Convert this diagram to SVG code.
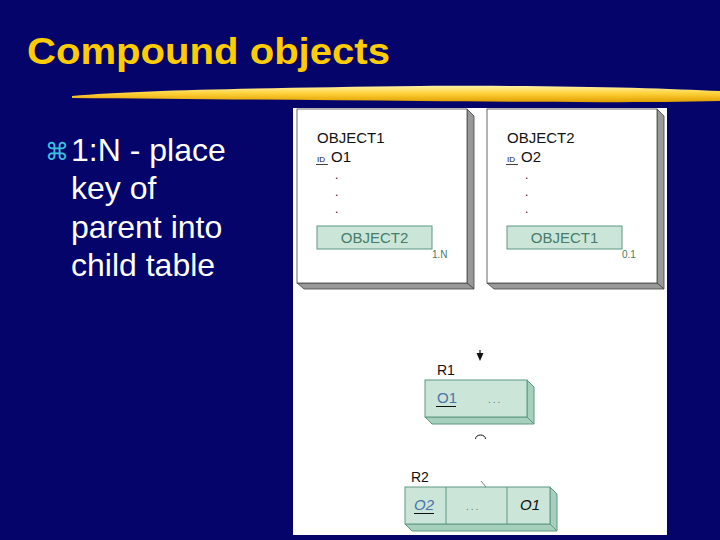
<svg xmlns="http://www.w3.org/2000/svg" width="720" height="540" viewBox="0 0 720 540">
<defs>
<linearGradient id="bar" x1="0" y1="0" x2="0" y2="1">
<stop offset="0" stop-color="#fff2a8"/>
<stop offset="0.45" stop-color="#ffd23c"/>
<stop offset="1" stop-color="#e0a000"/>
</linearGradient>
<style>
.sans{font-family:"Liberation Sans",Arial,sans-serif}
.blk{fill:#111}
.gtxt{fill:#467c69}
.card{fill:#fff;stroke:#444;stroke-width:0.8}
.shade{fill:#999;stroke:#444;stroke-width:0.8}
.gfront{fill:#cbe6d8;stroke:#5f9883;stroke-width:1}
.gside{fill:#a7d0bc;stroke:#5f9883;stroke-width:1}
.key{fill:#4d72a8}
</style>
</defs>
<rect width="720" height="540" fill="#04046a"/>
<g id="title">
<text x="27" y="64" class="sans" font-size="36" font-weight="bold" fill="#ffcc00" textLength="363" lengthAdjust="spacingAndGlyphs">Compound objects</text>
<path d="M72,96 C140,90 260,88 420,86 C560,85 660,88 720,91 L720,101 C640,103 520,102 420,101 C300,100 180,99 72,98 Z" fill="url(#bar)"/>
</g>
<g id="bullet" class="sans" font-size="32" fill="#ffffff">
<text x="45" y="160" font-size="24" fill="#3cc0e0">⌘</text>
<text x="71" y="161">1:N - place</text>
<text x="71" y="199">key of</text>
<text x="71" y="238">parent into</text>
<text x="71" y="276">child table</text>
</g>
<rect id="panel" x="293" y="108" width="374" height="427" fill="#ffffff"/>
<g id="object1">
<polygon class="shade" points="467,109 474,116 474,289 467,283"/>
<polygon class="shade" points="297,283 467,283 474,289 304,289"/>
<rect class="card" x="297" y="109" width="170" height="174"/>
<text x="317" y="143" class="sans blk" font-size="15">OBJECT1</text>
<text x="317" y="162" class="sans blk" font-size="8">ID</text>
<line x1="316" y1="164.5" x2="328" y2="164.5" stroke="#111" stroke-width="0.8"/>
<text x="331" y="162" class="sans blk" font-size="15">O1</text>
<text x="335" y="179" class="sans blk" font-size="12">.</text>
<text x="335" y="196" class="sans blk" font-size="12">.</text>
<text x="335" y="213" class="sans blk" font-size="12">.</text>
<rect class="gfront" x="317" y="226" width="115" height="23"/>
<text x="374.5" y="243" class="sans gtxt" font-size="15" text-anchor="middle">OBJECT2</text>
<text x="432" y="258" class="sans gtxt" font-size="10">1.N</text>
</g>
<g id="object2">
<polygon class="shade" points="657,109 664,116 664,289 657,283"/>
<polygon class="shade" points="487,283 657,283 664,289 494,289"/>
<rect class="card" x="487" y="109" width="170" height="174"/>
<text x="507" y="143" class="sans blk" font-size="15">OBJECT2</text>
<text x="507" y="162" class="sans blk" font-size="8">ID</text>
<line x1="506" y1="164.5" x2="518" y2="164.5" stroke="#111" stroke-width="0.8"/>
<text x="521" y="162" class="sans blk" font-size="15">O2</text>
<text x="525" y="179" class="sans blk" font-size="12">.</text>
<text x="525" y="196" class="sans blk" font-size="12">.</text>
<text x="525" y="213" class="sans blk" font-size="12">.</text>
<rect class="gfront" x="507" y="226" width="115" height="23"/>
<text x="564.5" y="243" class="sans gtxt" font-size="15" text-anchor="middle">OBJECT1</text>
<text x="622" y="258" class="sans gtxt" font-size="10">0.1</text>
</g>
<g id="connectors" stroke="#111" fill="none">
<line x1="480" y1="350" x2="480" y2="356" stroke-width="1.2"/>
<polygon points="476.5,353 483.5,353 480,361" fill="#111" stroke="none"/>
<path d="M475.5,439 A5,4 0 0 1 485.5,439" stroke-width="1"/>
<line x1="481" y1="481" x2="486" y2="487" stroke="#555" stroke-width="0.8"/>
</g>
<g id="r1">
<text x="437" y="375" class="sans blk" font-size="14">R1</text>
<polygon class="gside" points="527,380 534,387 534,424 527,417"/>
<polygon class="gside" points="425,417 527,417 534,424 432,424"/>
<rect class="gfront" x="425" y="380" width="102" height="37"/>
<text x="437" y="403" class="sans key" font-size="15">O1</text>
<line x1="436" y1="406.5" x2="456" y2="406.5" stroke="#111" stroke-width="1"/>
<text x="488" y="403" class="sans" font-size="10" fill="#5f7f70" letter-spacing="2">...</text>
</g>
<g id="r2">
<text x="411" y="482" class="sans blk" font-size="14">R2</text>
<polygon class="gside" points="550,487 557,494 557,531 550,524"/>
<polygon class="gside" points="405,524 550,524 557,531 412,531"/>
<rect class="gfront" x="405" y="487" width="145" height="37"/>
<line x1="446" y1="487" x2="446" y2="524" stroke="#5f9883" stroke-width="1"/>
<line x1="507" y1="487" x2="507" y2="524" stroke="#5f9883" stroke-width="1"/>
<text x="414" y="510" class="sans key" font-size="15" font-style="italic">O2</text>
<line x1="414" y1="513.5" x2="434" y2="513.5" stroke="#111" stroke-width="1"/>
<text x="466" y="510" class="sans" font-size="10" fill="#5f7f70" letter-spacing="2">...</text>
<text x="520" y="510" class="sans blk" font-size="15" font-style="italic">O1</text>
</g>
</svg>
